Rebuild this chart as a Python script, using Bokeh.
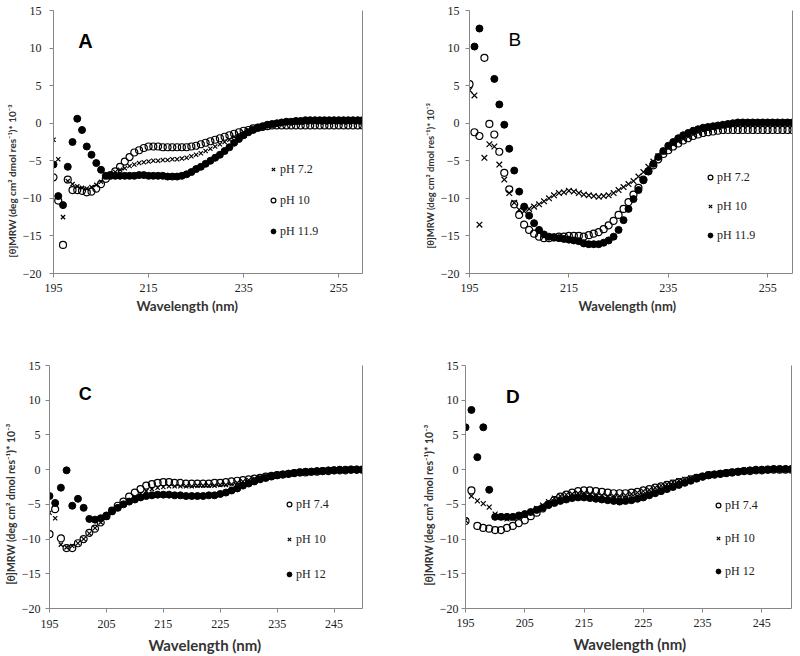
from bokeh.plotting import figure
from bokeh.models import Range1d, FixedTicker, LinearAxis, Legend, LegendItem, Label, Title, ColumnDataSource
from bokeh.layouts import row, column
from bokeh.embed import file_html
from bokeh.resources import INLINE

NaN = float("nan")

# ---------------- data ----------------
wl_ab = list(range(195, 261))   # panels A and B (1 nm steps)
wl_cd = list(range(195, 251))   # panels C and D

x_ticks_ab = [195, 215, 235, 255]
x_ticks_cd = [195, 205, 215, 225, 235, 245]
y_ticks = [-20, -15, -10, -5, 0, 5, 10, 15]

# Panel A
A_labels = ["pH 7.2", "pH 10", "pH 11.9"]
A_ph72 = [-2.2, -4.8, -12.5, -7.7, -8.1, -8.4, -8.6, -8.7, -8.5, -8.2,
          -7.8, -7.2, -6.8, -6.5, -6.2, -6.0, -5.7, -5.5, -5.3, -5.2,
          -5.1, -5.0, -5.0, -4.9, -4.9, -4.8, -4.8, -4.7, -4.6, -4.4,
          -4.2, -4.0, -3.7, -3.4, -3.1, -2.8, -2.5, -2.2, -1.8, -1.5,
          -1.2, -0.9, -0.7, -0.5, -0.3, -0.2, -0.1, 0.0, 0.0, 0.1,
          0.1, 0.1, 0.1, 0.1, 0.1, 0.1, 0.1, 0.1, 0.1, 0.1,
          0.1, 0.1, 0.1, 0.1, 0.1, 0.1]
A_ph10 = [-7.2, -10.3, -16.2, -7.5, -8.9, -8.9, -9.0, -9.2, -9.1, -8.7,
          -8.1, -7.4, -6.9, -6.4, -5.8, -5.1, -4.5, -3.9, -3.6, -3.3,
          -3.1, -3.1, -3.1, -3.2, -3.2, -3.2, -3.2, -3.2, -3.2, -3.1,
          -3.0, -2.8, -2.6, -2.4, -2.2, -2.0, -1.8, -1.6, -1.4, -1.2,
          -1.0, -0.9, -0.7, -0.6, -0.5, -0.4, -0.3, -0.3, -0.3, -0.3,
          -0.3, -0.3, -0.3, -0.3, -0.3, -0.3, -0.3, -0.3, -0.3, -0.3,
          -0.3, -0.3, -0.3, -0.3, -0.3, -0.3]
A_ph119 = [-5.5, -9.7, -10.9, -5.8, -2.5, 0.6, -0.9, -3.1, -4.2, -5.3,
           -6.2, -7.0, -7.0, -7.0, -7.0, -7.0, -7.0, -7.0, -6.9, -6.9,
           -7.0, -7.0, -7.0, -7.0, -7.1, -7.1, -7.1, -7.0, -6.8, -6.5,
           -6.1, -5.8, -5.4, -5.0, -4.6, -4.2, -3.7, -3.2, -2.6, -2.1,
           -1.6, -1.2, -0.9, -0.6, -0.4, -0.2, -0.1, 0.0, 0.1, 0.2,
           0.2, 0.3, 0.3, 0.4, 0.4, 0.4, 0.4, 0.4, 0.4, 0.4,
           0.4, 0.4, 0.4, 0.4, 0.4, 0.4]

# Panel B
B_labels = ["pH 7.2", "pH 10", "pH 11.9"]
B_ph72 = [5.2, -1.2, -1.7, 8.7, -0.1, -1.5, -3.8, -6.6, -8.8, -10.8,
          -12.2, -13.5, -14.2, -14.7, -15.1, -15.3, -15.3, -15.2, -15.1, -15.1,
          -15.0, -15.0, -15.0, -15.1, -14.9, -14.7, -14.5, -14.1, -13.6, -13.0,
          -12.2, -11.4, -10.5, -9.5, -8.6, -7.5, -6.4, -5.6, -4.8, -4.1,
          -3.6, -3.1, -2.7, -2.3, -2.0, -1.7, -1.5, -1.3, -1.2, -1.1,
          -1.0, -0.9, -0.9, -0.9, -0.9, -0.9, -0.9, -0.9, -0.9, -0.9,
          -0.9, -0.9, -0.9, -0.9, -0.9, -0.9]
B_ph10 = [4.4, 3.7, -13.5, -4.6, -2.8, -3.1, -5.5, -7.5, -9.3, -10.6,
          -11.5, -11.7, -11.4, -11.1, -10.8, -10.4, -10.0, -9.6, -9.3, -9.2,
          -9.0, -9.1, -9.3, -9.5, -9.6, -9.7, -9.8, -9.7, -9.6, -9.3,
          -8.9, -8.5, -8.1, -7.7, -7.1, -6.5, -5.8, -5.1, -4.4, -3.8,
          -3.3, -2.8, -2.4, -2.1, -1.8, -1.5, -1.2, -1.0, -0.8, -0.6,
          -0.5, -0.4, -0.3, -0.3, -0.3, -0.3, -0.3, -0.3, -0.3, -0.3,
          -0.3, -0.3, -0.3, -0.3, -0.3, -0.3]
B_ph119 = [NaN, 10.2, 12.6, NaN, NaN, 5.9, 2.5, -0.2, -3.4, -6.3,
           -9.1, -11.1, -12.3, -13.3, -14.2, -14.8, -15.1, -15.2, -15.3, -15.4,
           -15.5, -15.6, -15.7, -16.0, -16.1, -16.1, -16.1, -15.9, -15.6, -15.1,
           -14.2, -12.9, -11.4, -10.1, -8.9, -7.6, -6.4, -5.4, -4.5, -3.7,
           -3.0, -2.5, -2.0, -1.6, -1.3, -1.0, -0.8, -0.6, -0.5, -0.4,
           -0.3, -0.2, -0.1, 0.0, 0.1, 0.1, 0.1, 0.1, 0.1, 0.1,
           0.1, 0.1, 0.1, 0.1, 0.1, 0.1]

# Panel C
C_labels = ["pH 7.4", "pH 10", "pH 12"]
C_ph74 = [-9.3, -5.7, -9.9, -11.3, -11.3, -10.6, -10.0, -9.1, -8.5, -7.6,
          -6.7, -5.9, -5.2, -4.6, -3.9, -3.3, -2.8, -2.3, -2.1, -1.9,
          -1.8, -1.8, -1.9, -1.9, -2.0, -2.0, -2.0, -2.0, -2.0, -1.9,
          -1.9, -1.8, -1.7, -1.6, -1.5, -1.4, -1.3, -1.2, -1.0, -0.9,
          -0.8, -0.7, -0.6, -0.5, -0.4, -0.4, -0.3, -0.3, -0.2, -0.2,
          -0.1, -0.1, -0.1, 0.0, 0.0, 0.0]
C_ph10 = [-6.2, -7.0, -10.8, -11.2, -11.0, -10.6, -10.0, -9.2, -8.4, -7.6,
          -6.9, -6.2, -5.6, -5.0, -4.4, -3.9, -3.5, -3.1, -2.8, -2.6,
          -2.5, -2.4, -2.4, -2.4, -2.4, -2.4, -2.3, -2.3, -2.3, -2.3,
          -2.2, -2.2, -2.1, -1.9, -1.7, -1.5, -1.3, -1.1, -1.0, -0.9,
          -0.8, -0.7, -0.6, -0.5, -0.4, -0.3, -0.3, -0.2, -0.2, -0.1,
          -0.1, -0.1, 0.0, 0.0, 0.0, 0.0]
C_ph12 = [-3.8, -4.8, -2.6, -0.1, -5.2, -4.2, -5.5, -7.1, -7.2, -7.0,
          -6.6, -6.0, -5.5, -5.0, -4.6, -4.3, -4.0, -3.8, -3.7, -3.6,
          -3.6, -3.6, -3.7, -3.7, -3.8, -3.8, -3.8, -3.8, -3.7, -3.7,
          -3.5, -3.3, -3.0, -2.7, -2.3, -2.0, -1.7, -1.4, -1.2, -1.0,
          -0.8, -0.7, -0.6, -0.5, -0.4, -0.3, -0.3, -0.2, -0.2, -0.1,
          -0.1, 0.0, 0.0, 0.0, 0.0, 0.0]

# Panel D
D_labels = ["pH 7.4", "pH 10", "pH 12"]
D_ph74 = [-7.4, -3.0, -8.1, -8.4, -8.5, -8.7, -8.7, -8.4, -8.1, -7.7,
          -7.3, -6.7, -6.2, -5.6, -5.0, -4.4, -3.9, -3.6, -3.3, -3.1,
          -3.0, -3.0, -3.1, -3.2, -3.3, -3.4, -3.4, -3.4, -3.3, -3.2,
          -3.0, -2.8, -2.6, -2.4, -2.2, -2.0, -1.8, -1.6, -1.4, -1.2,
          -1.0, -0.8, -0.7, -0.6, -0.5, -0.4, -0.3, -0.2, -0.2, -0.1,
          -0.1, 0.0, 0.0, 0.0, 0.0, 0.0]
D_ph10 = [-7.3, -3.8, -4.5, -4.9, -5.4, -6.4, -6.9, -7.1, -7.0, -6.8,
          -6.5, -6.1, -5.6, -5.1, -4.6, -4.1, -3.8, -3.6, -3.5, -3.4,
          -3.4, -3.5, -3.6, -3.7, -3.8, -3.8, -3.8, -3.7, -3.5, -3.3,
          -3.1, -2.9, -2.6, -2.3, -2.1, -1.8, -1.6, -1.4, -1.2, -1.0,
          -0.9, -0.7, -0.6, -0.5, -0.4, -0.3, -0.2, -0.2, -0.1, -0.1,
          0.0, 0.0, 0.0, 0.0, 0.0, 0.0]
D_ph12 = [6.1, 8.6, 1.8, 6.1, -2.9, -6.8, -6.8, -6.8, -6.8, -6.6,
          -6.4, -6.1, -5.8, -5.5, -5.1, -4.8, -4.5, -4.3, -4.1, -4.0,
          -4.0, -4.1, -4.2, -4.3, -4.4, -4.5, -4.6, -4.5, -4.4, -4.2,
          -4.0, -3.7, -3.4, -3.1, -2.8, -2.5, -2.2, -1.9, -1.6, -1.3,
          -1.0, -0.8, -0.7, -0.6, -0.5, -0.4, -0.3, -0.2, -0.1, 0.0,
          0.0, 0.0, 0.1, 0.1, 0.1, 0.1]

Y_LABEL = "[\u03b8]MRW (deg cm\u00b2 dmol res\u207b\u00b9)* 10\u207b\u00b3"
X_LABEL = "Wavelength (nm)"

AXIS_COLOR = "#868686"
TEXT_COLOR = "#222222"


def make_panel(wl, series, markers, labels, xend, xticks, geom):
    p = figure(width=400, height=328, output_backend="svg", toolbar_location=None,
               title=None, x_range=Range1d(195, xend), y_range=Range1d(-20, 15),
               min_border_left=geom["bl"], min_border_right=geom["br"],
               min_border_top=geom["bt"], min_border_bottom=geom["bb"])
    p.xgrid.visible = False
    p.ygrid.visible = False
    p.outline_line_color = None
    p.xaxis.ticker = FixedTicker(ticks=xticks)
    p.yaxis.ticker = FixedTicker(ticks=y_ticks)
    for ax, standoff in ((p.xaxis, geom["xs"]), (p.yaxis, geom["ys"])):
        ax.axis_line_color = AXIS_COLOR
        ax.major_tick_line_color = AXIS_COLOR
        ax.minor_tick_line_color = None
        ax.major_tick_in = 0
        ax.major_tick_out = 4
        ax.major_label_standoff = standoff
        ax.major_label_text_font = "Liberation Serif"
        ax.major_label_text_font_size = "12px"
        ax.major_label_text_color = TEXT_COLOR
    rax = LinearAxis(ticker=FixedTicker(ticks=[]), axis_line_color=AXIS_COLOR,
                     major_tick_line_color=None, minor_tick_line_color=None,
                     major_label_text_font_size="0px", major_label_standoff=0)
    p.add_layout(rax, "right")

    items = []
    for vals, mk, lab in zip(series, markers, labels):
        src = ColumnDataSource(dict(x=wl, y=vals))
        if mk == "open":
            r = p.scatter("x", "y", source=src, marker="circle", size=geom["cs"],
                          fill_color=None, line_color="black", line_width=1.2)
        elif mk == "filled":
            r = p.scatter("x", "y", source=src, marker="circle", size=geom["cs"],
                          fill_color="black", line_color="black", line_width=1)
        else:
            r = p.scatter("x", "y", source=src, marker="x", size=geom["xsz"],
                          line_color="black", line_width=1.2)
        items.append(LegendItem(label=lab, renderers=[r]))

    leg = Legend(items=items, location=geom["leg"], orientation="vertical",
                 background_fill_alpha=0, border_line_color=None, padding=4,
                 spacing=geom["sp"], glyph_width=12, glyph_height=20, label_height=20,
                 label_standoff=1, margin=0,
                 label_text_font="Liberation Serif", label_text_font_size="12px",
                 label_text_color=TEXT_COLOR)
    p.add_layout(leg)

    p.add_layout(Label(x=geom["lx"], y=geom["ly"], text=geom["letter"],
                       text_font="Liberation Sans", text_font_style=geom["lstyle"],
                       text_font_size=geom["lsize"], text_align="center",
                       text_baseline="middle", text_color="black"))

    p.add_layout(Title(text=X_LABEL, align="left", offset=geom["xto"],
                       text_font="Lato", text_font_style="bold",
                       text_font_size=geom["xtfs"], text_color="#333333",
                       standoff=geom["xtst"]), "below")
    p.add_layout(Title(text=Y_LABEL, align="left", offset=geom["yto"],
                       text_font="Lato", text_font_style="bold",
                       text_font_size=geom["ytfs"], text_color="#333333",
                       standoff=geom["ytst"]), "left")
    return p


gA = dict(bl=53, br=38, bt=10, bb=54, xs=6, ys=8, cs=7, xsz=6, leg=(214, 32), sp=11,
          lx=201.7, ly=11.0, letter="A", lstyle="bold", lsize="20px",
          xto=83, xtfs="13.5px", xtst=3, yto=16, ytfs="10px", ytst=4)
gB = dict(bl=69, br=8, bt=9, bb=55, xs=6, ys=6, cs=7, xsz=8, leg=(235, 28), sp=9,
          lx=204.1, ly=11.1, letter="B", lstyle="normal", lsize="19px",
          xto=109, xtfs="13px", xtst=3, yto=25, ytfs="9.5px", ytst=4)
gC = dict(bl=49, br=38, bt=37, bb=47, xs=7, ys=5, cs=7, xsz=6, leg=(234, 24), sp=15,
          lx=201.3, ly=10.84, letter="C", lstyle="bold", lsize="18px",
          xto=99, xtfs="15px", xtst=6, yto=24, ytfs="10.5px", ytst=4)
gD = dict(bl=65, br=9, bt=36, bb=48, xs=6, ys=3, cs=7, xsz=7, leg=(247, 27), sp=13,
          lx=203.0, ly=10.6, letter="D", lstyle="bold", lsize="19px",
          xto=108, xtfs="15px", xtst=6, yto=23, ytfs="10.5px", ytst=4)

pA = make_panel(wl_ab, [A_ph72, A_ph10, A_ph119], ["x", "open", "filled"], A_labels,
                260, x_ticks_ab, gA)
pB = make_panel(wl_ab, [B_ph72, B_ph10, B_ph119], ["open", "x", "filled"], B_labels,
                260, x_ticks_ab, gB)
pC = make_panel(wl_cd, [C_ph74, C_ph10, C_ph12], ["open", "x", "filled"], C_labels,
                250, x_ticks_cd, gC)
pD = make_panel(wl_cd, [D_ph74, D_ph10, D_ph12], ["open", "x", "filled"], D_labels,
                250, x_ticks_cd, gD)

layout = column(row(pA, pB, spacing=0), row(pC, pD, spacing=0), spacing=0)
open("out.html", "w").write(file_html(layout, INLINE))
